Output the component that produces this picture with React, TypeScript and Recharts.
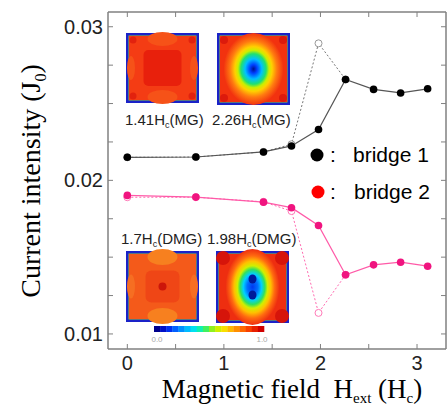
import React from 'react';
import { LineChart, Line, XAxis, YAxis } from 'recharts';

// field values (units of Hc)
const fields = [0, 0.71, 1.41, 1.7, 1.98, 2.26, 2.55, 2.83, 3.11];
const bridge1 = [0.0215, 0.02152, 0.02185, 0.02224, 0.02331, 0.02657, 0.02592, 0.02569, 0.02596];
const bridge1Alt = [0.0215, 0.02152, 0.02185, 0.02235, 0.02892, 0.02657, null, null, null];
const bridge2 = [0.01902, 0.01891, 0.01858, 0.01822, 0.01706, 0.01385, 0.0145, 0.01467, 0.01441];
const bridge2Alt = [0.0189, 0.0189, 0.0186, 0.018, 0.01137, 0.01385, null, null, null];

const xTicks = [0, 0.5, 1, 1.5, 2, 2.5, 3];
const xLabels = [0, 1, 2, 3];
const yTicks = [0.01, 0.0125, 0.015, 0.0175, 0.02, 0.0225, 0.025, 0.0275, 0.03];
const yLabels = ['0.01', '0.02', '0.03'];

const data = fields.map((h, i) => ({
  h,
  b1: bridge1[i],
  b1a: bridge1Alt[i],
  b2: bridge2[i],
  b2a: bridge2Alt[i],
}));

const FRAME = '#808080';
const SANS = 'Liberation Sans, Arial, sans-serif';
const SERIF = 'Liberation Serif, Times New Roman, serif';

const BottomTick = (props: any) => {
  const { x, y, payload } = props;
  const show = xLabels.includes(payload.value);
  return (
    <g>
      <line x1={x} y1={y} x2={x} y2={y - 5} stroke={FRAME} strokeWidth={1} />
      {show && (
        <text x={x} y={y + 21} textAnchor="middle" fontSize={20} fontFamily={SANS} fill="#222">
          {payload.value}
        </text>
      )}
    </g>
  );
};

const TopTick = (props: any) => {
  const { x, y } = props;
  return <line x1={x} y1={y} x2={x} y2={y + 5} stroke={FRAME} strokeWidth={1} />;
};

const LeftTick = (props: any) => {
  const { x, y, payload } = props;
  const label = payload.value.toFixed(3).replace(/0$/, '');
  const show = yLabels.includes(label) && Math.abs(payload.value * 100 - Math.round(payload.value * 100)) < 1e-6;
  return (
    <g>
      <line x1={x} y1={y} x2={x + 5} y2={y} stroke={FRAME} strokeWidth={1} />
      {show && (
        <text x={x - 5} y={y + 7} textAnchor="end" fontSize={20} fontFamily={SANS} fill="#222">
          {label}
        </text>
      )}
    </g>
  );
};

const RightTick = (props: any) => {
  const { x, y } = props;
  return <line x1={x} y1={y} x2={x - 5} y2={y} stroke={FRAME} strokeWidth={1} />;
};

const openDot = (color: string) => (p: any) => {
  if (p.value == null || p.cy == null) return <g key={p.index} />;
  return <circle key={p.index} cx={p.cx} cy={p.cy} r={3.5} fill="#fff" stroke={color} strokeWidth={1} />;
};

const fullDot = (color: string) => (p: any) => {
  if (p.cy == null) return <g key={p.index} />;
  return <circle key={p.index} cx={p.cx} cy={p.cy} r={3.8} fill={color} stroke="none" />;
};

function Heatmap({ x, y, w, h, kind }: { x: number; y: number; w: number; h: number; kind: string }) {
  const cx = x + w / 2;
  const cy = y + h / 2;
  const ix = x + 3;
  const iy = y + 3;
  const iw = w - 6;
  const ih = h - 6;
  const corners = [[ix + 4, iy + 4], [ix + iw - 4, iy + 4], [ix + 4, iy + ih - 4], [ix + iw - 4, iy + ih - 4]];
  let inner: React.ReactNode = null;
  if (kind === 'mg1') {
    inner = (
      <g>
        <rect x={ix} y={iy} width={iw} height={ih} fill="#f43c14" />
        <ellipse cx={cx} cy={iy + 3} rx={15} ry={7} fill="#f65218" />
        <ellipse cx={cx} cy={iy + ih - 3} rx={15} ry={7} fill="#f65218" />
        <ellipse cx={ix + 2} cy={cy} rx={4} ry={12} fill="#f65218" />
        <ellipse cx={ix + iw - 2} cy={cy} rx={4} ry={12} fill="#f65218" />
        <rect x={cx - 19} y={cy - 18} width={38} height={36} rx={5} fill="#e8200c" />
        {corners.map((c, i) => (
          <circle key={i} cx={c[0]} cy={c[1]} r={3.5} fill="#e2220e" />
        ))}
      </g>
    );
  } else if (kind === 'mg2') {
    inner = (
      <g>
        <rect x={ix} y={iy} width={iw} height={ih} fill="#f2320f" />
        <ellipse cx={cx} cy={cy} rx={30} ry={36} fill="url(#vortex1)" />
        {corners.map((c, i) => (
          <circle key={i} cx={c[0]} cy={c[1]} r={4} fill="#dc1a0c" />
        ))}
      </g>
    );
  } else if (kind === 'dmg1') {
    inner = (
      <g>
        <rect x={ix} y={iy} width={iw} height={ih} fill="#f45a1a" />
        <ellipse cx={cx} cy={iy + 3} rx={15} ry={8} fill="#f7801f" />
        <ellipse cx={cx} cy={iy + ih - 3} rx={15} ry={8} fill="#f7801f" />
        <ellipse cx={ix + 2} cy={cy} rx={4} ry={12} fill="#f66e22" />
        <ellipse cx={ix + iw - 2} cy={cy} rx={4} ry={12} fill="#f66e22" />
        <rect x={cx - 17} y={cy - 16} width={34} height={32} rx={6} fill="#ef4616" />
        <circle cx={cx} cy={cy} r={4} fill="#cc160a" />
      </g>
    );
  } else {
    inner = (
      <g>
        <rect x={ix} y={iy} width={iw} height={ih} fill="#ee2e10" />
        {corners.map((c, i) => (
          <ellipse key={i} cx={c[0]} cy={c[1]} rx={7} ry={7} fill="#d6140a" />
        ))}
        <ellipse cx={cx} cy={cy} rx={27} ry={38} fill="url(#vortex2)" />
        <ellipse cx={cx} cy={cy - 8} rx={4} ry={4.5} fill="#001a9a" />
        <ellipse cx={cx} cy={cy + 8} rx={4} ry={4.5} fill="#001a9a" />
      </g>
    );
  }
  return (
    <g>
      <rect x={x} y={y} width={w} height={h} fill="#1a22c8" />
      <rect x={x + 2.5} y={y + 2.5} width={w - 5} height={h - 5} fill="#9acb30" />
      {inner}
    </g>
  );
}

const cbColors = [
  '#00008c', '#0010c8', '#0030f0', '#0060ff', '#0090ff', '#00bcff', '#00e0f0', '#10f0b0',
  '#40f060', '#90f020', '#d0f000', '#f8e000', '#ffb800', '#ff9000', '#ff6800', '#f84000', '#e82000', '#d00000',
];

function Overlay() {
  const cbX = 154;
  const cbW = 110;
  const seg = cbW / cbColors.length;
  return (
    <svg width={447} height={409} style={{ position: 'absolute', left: 0, top: 0, pointerEvents: 'none' }}>
      <defs>
        <radialGradient id="vortex1" cx="50%" cy="50%" r="50%">
          <stop offset="0" stopColor="#001090" />
          <stop offset="0.12" stopColor="#0040ff" />
          <stop offset="0.28" stopColor="#00c0ff" />
          <stop offset="0.42" stopColor="#20e070" />
          <stop offset="0.52" stopColor="#c8f000" />
          <stop offset="0.62" stopColor="#ffd000" />
          <stop offset="0.78" stopColor="#ff7a10" />
          <stop offset="1" stopColor="#f2320f" />
        </radialGradient>
        <radialGradient id="vortex2" cx="50%" cy="50%" r="50%">
          <stop offset="0" stopColor="#0038f0" />
          <stop offset="0.2" stopColor="#0070ff" />
          <stop offset="0.34" stopColor="#00d0ff" />
          <stop offset="0.46" stopColor="#30e060" />
          <stop offset="0.56" stopColor="#d0f000" />
          <stop offset="0.68" stopColor="#ffc000" />
          <stop offset="0.82" stopColor="#ff6a10" />
          <stop offset="1" stopColor="#ee2e10" />
        </radialGradient>
      </defs>

      <Heatmap x={126} y={33} w={73} h={70} kind="mg1" />
      <Heatmap x={217} y={33} w={73} h={72} kind="mg2" />
      <Heatmap x={126} y={251} w={73} h={71} kind="dmg1" />
      <Heatmap x={216} y={251} w={73} h={72} kind="dmg2" />

      <g fontFamily={SANS} fontSize={15} fill="#222">
        <text x={125} y={125}>1.41H<tspan fontSize={9} dy={3}>c</tspan><tspan dy={-3}>(MG)</tspan></text>
        <text x={212} y={125}>2.26H<tspan fontSize={9} dy={3}>c</tspan><tspan dy={-3}>(MG)</tspan></text>
        <text x={121} y={244}>1.7H<tspan fontSize={9} dy={3}>c</tspan><tspan dy={-3}>(DMG)</tspan></text>
        <text x={207} y={244}>1.98H<tspan fontSize={9} dy={3}>c</tspan><tspan dy={-3}>(DMG)</tspan></text>
      </g>

      {cbColors.map((c, i) => (
        <rect key={i} x={cbX + i * seg} y={326} width={seg + 0.3} height={6} fill={c} />
      ))}
      <text x={157} y={342} textAnchor="middle" fontSize={8} fontFamily={SANS} fill="#aaa">0.0</text>
      <text x={262} y={342} textAnchor="middle" fontSize={8} fontFamily={SANS} fill="#aaa">1.0</text>

      <circle cx={317} cy={155} r={6.5} fill="#000" />
      <text x={330} y={162} fontSize={21} fontFamily={SANS} fill="#000">:</text>
      <text x={353} y={162} fontSize={21} fontFamily={SANS} fill="#000">bridge 1</text>
      <circle cx={318} cy={192} r={6.5} fill="#ff0000" />
      <text x={330} y={199} fontSize={21} fontFamily={SANS} fill="#000">:</text>
      <text x={354} y={199} fontSize={21} fontFamily={SANS} fill="#000">bridge 2</text>

      <text x={292} y={398} textAnchor="middle" fontSize={27} fontFamily={SERIF} fill="#000">
        Magnetic field{'\u00a0\u00a0'}H<tspan fontSize={15} dy={5}>ext</tspan>
        <tspan dy={-5}>{'\u00a0'}(H</tspan><tspan fontSize={15} dy={5}>c</tspan><tspan dy={-5}>)</tspan>
      </text>
      <text x={40} y={181} textAnchor="middle" fontSize={28} fontFamily={SERIF} fill="#000" transform="rotate(-90 40 181)">
        Current intensity (J<tspan fontSize={16} dy={6}>0</tspan><tspan dy={-6}>)</tspan>
      </text>
    </svg>
  );
}

export default function App() {
  return (
    <div style={{ position: 'absolute', left: 0, top: 0, width: 447, height: 409, background: '#fff' }}>
      <LineChart width={447} height={409} data={data} margin={{ top: 11, right: 0, left: 48, bottom: 30 }}>
        <XAxis
          xAxisId="b"
          dataKey="h"
          type="number"
          domain={[-0.2, 3.3]}
          ticks={xTicks}
          allowDataOverflow
          height={30}
          tickSize={0}
          tickMargin={0}
          axisLine={{ stroke: FRAME, strokeWidth: 1.5 }}
          tick={<BottomTick />}
          interval={0}
        />
        <XAxis
          xAxisId="t"
          orientation="top"
          dataKey="h"
          type="number"
          domain={[-0.2, 3.3]}
          ticks={xTicks}
          allowDataOverflow
          height={1}
          tickSize={0}
          tickMargin={0}
          axisLine={{ stroke: FRAME, strokeWidth: 1.5 }}
          tick={<TopTick />}
          interval={0}
        />
        <YAxis
          yAxisId="l"
          type="number"
          domain={[0.00902, 0.03096]}
          ticks={yTicks}
          allowDataOverflow
          width={60}
          tickSize={0}
          tickMargin={0}
          axisLine={{ stroke: FRAME, strokeWidth: 1.5 }}
          tick={<LeftTick />}
          interval={0}
        />
        <YAxis
          yAxisId="r"
          orientation="right"
          type="number"
          domain={[0.00902, 0.03096]}
          ticks={yTicks}
          allowDataOverflow
          width={1}
          tickSize={0}
          tickMargin={0}
          axisLine={{ stroke: FRAME, strokeWidth: 1.5 }}
          tick={<RightTick />}
          interval={0}
        />
        <Line xAxisId="b" yAxisId="l" type="linear" dataKey="b1a" stroke="#777" strokeWidth={1} strokeDasharray="2 2" dot={openDot('#999')} isAnimationActive={false} connectNulls={false} />
        <Line xAxisId="b" yAxisId="l" type="linear" dataKey="b2a" stroke="#ff6ab0" strokeWidth={1} strokeDasharray="2 2" dot={openDot('#ff7ab8')} isAnimationActive={false} connectNulls={false} />
        <Line xAxisId="b" yAxisId="l" type="linear" dataKey="b1" stroke="#555" strokeWidth={1.2} dot={fullDot('#000')} isAnimationActive={false} />
        <Line xAxisId="b" yAxisId="l" type="linear" dataKey="b2" stroke="#ff5aa8" strokeWidth={1.2} dot={fullDot('#f0147f')} isAnimationActive={false} />
      </LineChart>
      <Overlay />
    </div>
  );
}
